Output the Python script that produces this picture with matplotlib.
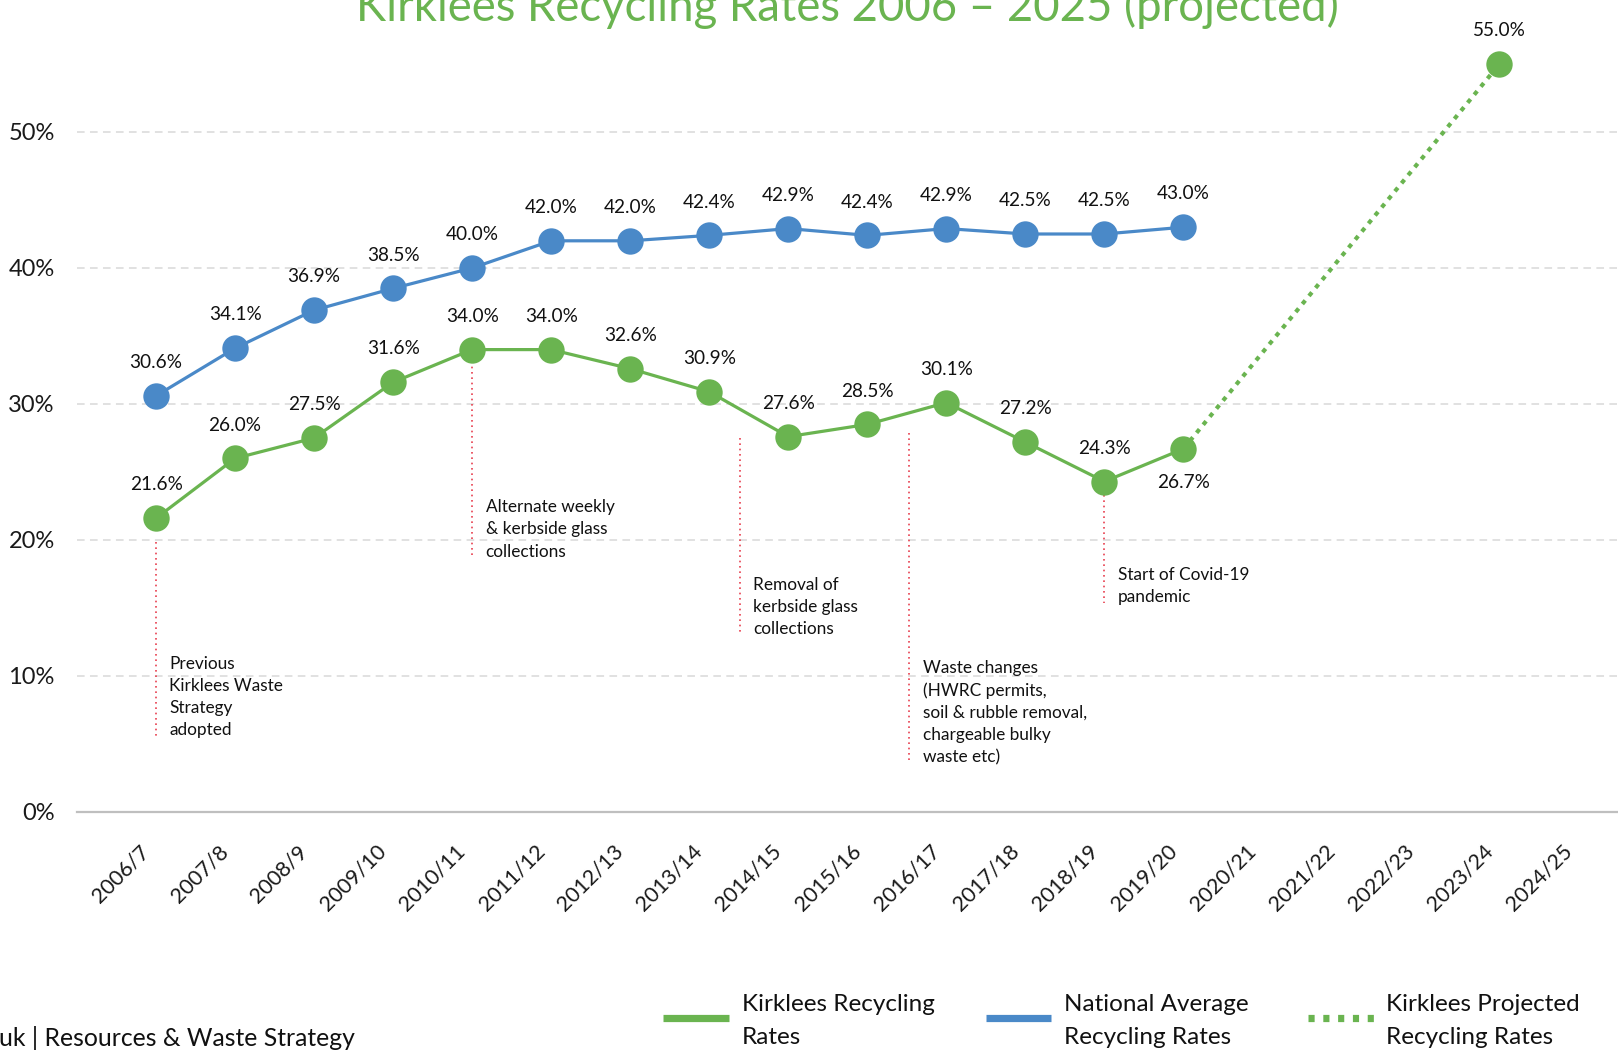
import matplotlib
matplotlib.use("Agg")
import matplotlib.pyplot as plt
from matplotlib.lines import Line2D
import matplotlib.transforms as mtransforms

plt.rcParams['font.family'] = ['Lato', 'DejaVu Sans']

# ---------------- data ----------------
years = ['2006/7', '2007/8', '2008/9', '2009/10', '2010/11', '2011/12', '2012/13',
         '2013/14', '2014/15', '2015/16', '2016/17', '2017/18', '2018/19', '2019/20',
         '2020/21', '2021/22', '2022/23', '2023/24', '2024/25']
kirklees = [21.6, 26.0, 27.5, 31.6, 34.0, 34.0, 32.6, 30.9, 27.6, 28.5, 30.1, 27.2, 24.3, 26.7]
national = [30.6, 34.1, 36.9, 38.5, 40.0, 42.0, 42.0, 42.4, 42.9, 42.4, 42.9, 42.5, 42.5, 43.0]
projected_years = ['2019/20', '2023/24']
projected = [26.7, 55.0]
y_ticks = [0, 10, 20, 30, 40, 50]
y_tick_labels = ['0%', '10%', '20%', '30%', '40%', '50%']
title = 'Kirklees Recycling Rates 2006 \u2013 2025 (projected)'
legend_labels = ['Kirklees Recycling\nRates', 'National Average\nRecycling Rates',
                 'Kirklees Projected\nRecycling Rates']
notes = ['Previous\nKirklees Waste\nStrategy\nadopted',
         'Alternate weekly\n& kerbside glass\ncollections',
         'Removal of\nkerbside glass\ncollections',
         'Waste changes\n(HWRC permits,\nsoil & rubble removal,\nchargeable bulky\nwaste etc)',
         'Start of Covid-19\npandemic']
footer = 'uk | Resources & Waste Strategy'

GREEN = '#6ab450'
BLUE = '#4a89c8'
RED = '#e8404f'
GRID = '#d9d9d9'

W, H = 1618, 1050
fig = plt.figure(figsize=(W / 100, H / 100), dpi=100)
ax = fig.add_axes([77 / W, (H - 812) / H, 1 - 77 / W, 680 / H])
ax.set_xlim(-1, 18.5)
ax.set_ylim(0, 50)

for s in ['top', 'right', 'left']:
    ax.spines[s].set_visible(False)
ax.spines['bottom'].set_color('#bfbfbf')
ax.spines['bottom'].set_linewidth(1.6)

for v in y_ticks[1:]:
    ax.axhline(v, color=GRID, lw=1.1, dashes=(5, 3.5), zorder=0, clip_on=False)

ax.set_yticks(y_ticks)
ax.set_yticklabels(y_tick_labels, fontsize=17, color='#1a1a1a')
ax.tick_params(axis='y', length=0, pad=16)

xpos = list(range(len(years)))
ax.set_xticks(xpos)
ax.set_xticklabels(years, rotation=45, ha='right', va='top', fontsize=15.5, color='#1a1a1a')
ax.tick_params(axis='x', length=0, pad=21)
off = mtransforms.ScaledTranslation(-2 / 72, 0, fig.dpi_scale_trans)
for lab in ax.get_xticklabels():
    lab.set_transform(lab.get_transform() + off)

mk = dict(marker='o', markersize=19, markeredgewidth=0)
nk = len(kirklees)
# projected dotted line
px = [years.index(y) for y in projected_years]
ax.plot(px, projected, color=GREEN, lw=3, dashes=(1.1, 1.4), dash_capstyle='butt',
        zorder=2, clip_on=False)
ax.plot(px[-1:], projected[-1:], color=GREEN, zorder=4, clip_on=False, **mk)
ax.plot(xpos[:nk], national, color=BLUE, lw=2.3, zorder=3, **mk)
ax.plot(xpos[:nk], kirklees, color=GREEN, lw=2.3, zorder=3, **mk)

lk = dict(ha='center', va='center', fontsize=13.7, color='#111111', textcoords='offset points')
for i, v in enumerate(national):
    ax.annotate(f'{v:.1f}%', (i, v), xytext=(0, 24), **lk)
for i, v in enumerate(kirklees):
    dy = -24 if i == nk - 1 else 24
    ax.annotate(f'{v:.1f}%', (i, v), xytext=(0, dy), **lk)
ax.annotate(f'{projected[-1]:.1f}%', (px[-1], projected[-1]), xytext=(0, 24),
            annotation_clip=False, **lk)

# annotations: vertical red dotted lines + text
note_geom = [(0.0, 19.85, 5.4, 0.17, 11.5),
             (4.0, 33.5, 18.75, 4.17, 23.0),
             (7.39, 27.5, 13.1, 7.56, 17.3),
             (9.53, 27.9, 3.8, 9.70, 11.2),
             (12.0, 23.3, 15.4, 12.17, 18.0)]
for (lx, ytop, ybot, tx, ty), txt in zip(note_geom, notes):
    ax.plot([lx, lx], [ytop, ybot], color=RED, lw=1.2, dashes=(1, 2.2), zorder=1)
    ax.text(tx, ty, txt, ha='left', va='top', fontsize=12.4, linespacing=1.48, color='#111111')

# title
t = fig.text(847 / W, 1 - 21 / H, title, ha='center', va='baseline', fontsize=30, color=GREEN)
r = fig.canvas.get_renderer()
w = t.get_window_extent(r).width
t.set_fontsize(30 * 982 / w)

# legend
handles = [(663, 729, dict(color=GREEN, lw=5.2, solid_capstyle='butt')),
           (986, 1051, dict(color=BLUE, lw=5.2, solid_capstyle='butt')),
           (1308, 1374, dict(color=GREEN, lw=5.2, dashes=(0.85, 1.2), dash_capstyle='butt'))]
text_x = [742, 1064, 1386]
for (x0, x1, kw), tx, lab in zip(handles, text_x, legend_labels):
    fig.add_artist(Line2D([x0 / W, x1 / W], [1 - 1018 / H] * 2, transform=fig.transFigure, **kw))
    fig.text(tx / W, 1 - 1044 / H, lab, ha='left', va='baseline', fontsize=17.5,
             linespacing=1.68, color='#111111')

fig.text(-1 / W, 1 - 1046 / H, footer, ha='left', va='baseline', fontsize=17.8, color='#111111')

fig.savefig('out.png', dpi=100)
